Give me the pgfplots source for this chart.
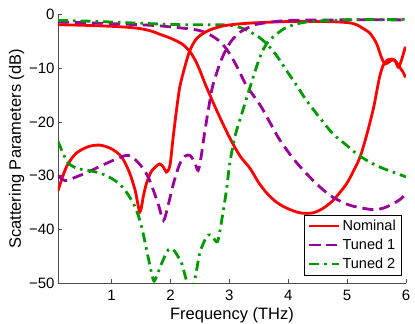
\documentclass[border=0pt]{standalone}
\usepackage{fontspec}
\setmainfont{Liberation Sans}
\usepackage{pgfplots}
\pgfplotsset{compat=1.18}
\definecolor{nomred}{RGB}{255,0,0}
\definecolor{tunpurple}{RGB}{153,0,153}
\definecolor{tungreen}{RGB}{0,153,0}

% nominal design
\pgfplotstableread{
x y
0.09 -1.9
0.5 -2.0
1.0 -2.2
1.4 -2.5
1.65 -3.0
1.85 -3.8
2.0 -4.4
2.2 -5.5
2.33 -6.9
2.42 -8.5
2.5 -10.4
2.6 -13.2
2.8 -18.2
3.0 -22.8
3.18 -26.3
3.35 -28.6
3.5 -31.3
3.65 -33.4
3.8 -34.9
3.97 -36.0
4.2 -36.9
4.42 -36.9
4.6 -36.0
4.76 -34.6
4.9 -32.8
4.99 -31.5
5.1 -29.3
5.22 -26.5
5.33 -22.5
5.44 -17.8
5.5 -14.5
5.55 -11.7
5.61 -9.5
5.68 -8.5
5.76 -8.3
5.82 -8.7
5.87 -9.8
5.92 -8.6
5.99 -6.0
}\nomA
\pgfplotstableread{
x y
0.09 -32.8
0.18 -29.8
0.26 -27.8
0.4 -25.8
0.6 -24.6
0.8 -24.3
1.0 -25.0
1.17 -26.5
1.3 -29.3
1.40 -32.7
1.48 -36.7
1.54 -33.8
1.59 -31.5
1.67 -29.3
1.74 -28.4
1.82 -27.8
1.88 -28.4
1.93 -29.3
1.97 -28.8
2.0 -27.5
2.04 -23.4
2.1 -18.0
2.16 -13.4
2.25 -9.5
2.33 -6.7
2.45 -4.4
2.64 -3.0
2.8 -2.4
2.96 -2.0
3.35 -1.6
4.03 -1.3
4.6 -1.3
5.0 -1.5
5.16 -1.9
5.3 -2.8
5.39 -3.5
5.5 -5.4
5.58 -7.9
5.64 -9.2
5.70 -8.9
5.78 -8.4
5.84 -8.9
5.89 -9.8
5.95 -10.7
5.99 -11.7
}\nomB

% tuned 1
\pgfplotstableread{
x y
0.09 -1.4
0.5 -1.5
1.0 -1.7
1.65 -2.0
2.0 -2.3
2.5 -3.0
2.78 -4.5
2.95 -6.4
3.12 -9.5
3.29 -13.2
3.52 -16.8
3.7 -20.3
3.86 -23.4
4.1 -27.0
4.31 -29.6
4.55 -32.2
4.76 -34.0
5.0 -35.3
5.16 -35.8
5.44 -36.3
5.62 -36.0
5.78 -35.2
5.9 -34.4
6.0 -33.4
}\tunA
\pgfplotstableread{
x y
0.09 -29.9
0.21 -30.9
0.4 -30.2
0.6 -29.3
0.89 -27.8
1.1 -26.8
1.28 -26.2
1.45 -27.5
1.62 -30.2
1.79 -35.2
1.88 -38.3
1.96 -35.5
2.05 -31.5
2.15 -28.0
2.24 -26.4
2.33 -26.2
2.41 -27.5
2.47 -29.0
2.52 -26.5
2.58 -22.0
2.67 -16.0
2.72 -13.2
2.84 -9.1
2.95 -6.4
3.05 -4.7
3.18 -3.3
3.35 -2.3
3.52 -1.7
4.03 -1.1
5.0 -1.0
6.0 -1.0
}\tunB

% tuned 2
\pgfplotstableread{
x y
0.09 -1.1
0.5 -1.2
1.0 -1.4
1.65 -1.7
2.2 -1.9
2.67 -1.9
3.01 -2.0
3.23 -2.6
3.46 -3.9
3.63 -5.4
3.8 -7.6
3.97 -10.4
4.15 -13.3
4.31 -16.0
4.55 -19.4
4.76 -22.2
5.0 -24.4
5.16 -25.9
5.36 -27.3
5.56 -28.4
5.8 -29.4
6.0 -30.2
}\tuntA
\pgfplotstableread{
x y
0.09 -23.6
0.18 -25.9
0.26 -27.6
0.41 -28.6
0.6 -29.0
0.83 -29.6
1.06 -30.9
1.23 -32.7
1.40 -35.8
1.51 -39.5
1.62 -45.1
1.71 -49.4
1.76 -48.8
1.85 -46.3
1.96 -43.8
2.04 -43.7
2.10 -44.5
2.19 -46.3
2.24 -48.2
2.3 -50.5
2.36 -51.5
2.42 -49.0
2.5 -44.3
2.61 -41.4
2.67 -41.0
2.72 -41.4
2.8 -42.2
2.87 -38.3
2.95 -32.7
3.01 -27.5
3.1 -22.5
3.23 -17.8
3.38 -12.5
3.52 -7.9
3.63 -5.5
3.74 -4.2
3.97 -2.4
4.31 -1.4
5.0 -1.0
6.0 -0.9
}\tuntB

\begin{document}
\begin{tikzpicture}
\begin{axis}[
    scale only axis,
    width=348bp, height=268.8bp,
    xmin=0.09, xmax=6, ymin=-50, ymax=0,
    axis x line*=bottom, axis y line*=left,
    axis line style={draw=black!70, line width=0.6bp},
    tick style={draw=black!70, line width=0.6bp},
    tick align=inside, major tick length=4bp,
    xtick={1,2,3,4,5,6}, xticklabels={1,2,3,4,5,6},
    ytick={-50,-40,-30,-20,-10,0},
    yticklabels={−50,−40,−30,−20,−10,0},
    tick label style={font=\fontsize{15bp}{18bp}\selectfont},
    xticklabel style={yshift=-3bp},
    label style={font=\fontsize{16.5bp}{19bp}\selectfont},
    xlabel={Frequency (THz)},
    ylabel={Scattering Parameters (dB)},
    ylabel style={yshift=-2bp},
    legend style={at={(1,0)}, anchor=south east, xshift=-4bp, yshift=8bp,
        font=\fontsize{14.5bp}{17bp}\selectfont, draw=black, line width=0.5bp,
        inner xsep=4bp, inner ysep=3bp, row sep=3bp},
    legend cell align=left,
    legend image code/.code={\draw[#1] plot coordinates {(0bp,0bp) (15bp,0bp) (30bp,0bp)};},
    every axis plot/.append style={line width=2.8bp, smooth, tension=0.5},
]
\addplot[nomred] table {\nomA};
\addlegendentry{Nominal}
\addplot[tunpurple, dash pattern=on 11bp off 6bp] table {\tunA};
\addlegendentry{Tuned 1}
\addplot[tungreen, dash pattern=on 10bp off 5bp on 2.5bp off 5bp] table {\tuntA};
\addlegendentry{Tuned 2}
\addplot[nomred, forget plot] table {\nomB};
\addplot[tunpurple, dash pattern=on 11bp off 6bp, forget plot] table {\tunB};
\addplot[tungreen, dash pattern=on 10bp off 5bp on 2.5bp off 5bp, forget plot] table {\tuntB};
\end{axis}
\pgfresetboundingbox
\path ([shift={(-58bp,-40.7bp)}]current axis.south west) rectangle ([shift={(9bp,14.5bp)}]current axis.north east);
\end{tikzpicture}
\end{document}
